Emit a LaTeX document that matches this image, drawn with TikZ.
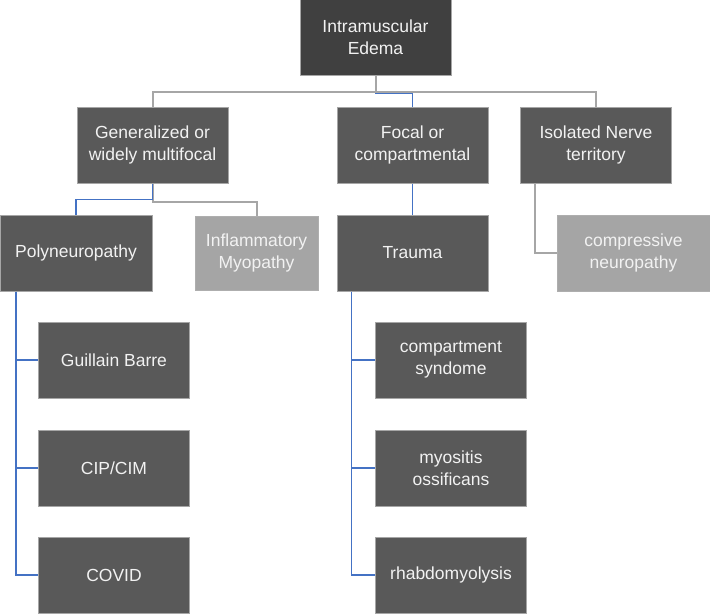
\documentclass[tikz,border=0pt]{standalone}
\usepackage{fontspec}
\setmainfont{Liberation Sans}
\definecolor{boxdark}{HTML}{595959}
\definecolor{boxtop}{HTML}{404040}
\definecolor{boxlight}{HTML}{A5A5A5}
\definecolor{boxedge}{HTML}{A6A6A6}
\definecolor{linkgray}{HTML}{A6A6A6}
\definecolor{linkblue}{HTML}{4472C4}
\definecolor{boxtext}{HTML}{F2F2F2}
\tikzstyle{darkbox}=[draw=boxedge,fill=boxdark,text=boxtext,line width=1pt,minimum width=151pt,minimum height=76pt,inner sep=0pt,align=center,font=\fontsize{17.5}{22}\selectfont]
\tikzstyle{topbox}=[darkbox,fill=boxtop]
\tikzstyle{lightbox}=[darkbox,fill=boxlight,draw=boxlight!90!white]
\tikzstyle{graylink}=[draw=linkgray,line width=2pt]
\tikzstyle{bluelink}=[draw=linkblue,line width=1.8pt]

\begin{document}
\begin{tikzpicture}[x=1pt,y=-1pt]
\useasboundingbox (0,0) rectangle (710,614);
% first two levels
\node[topbox] (edema) at (375.5,37.5) {Intramuscular\\Edema};
\node[darkbox] (general) at (152.5,145) {Generalized or\\widely multifocal};
\node[darkbox] (focal) at (412.5,145) {Focal or\\compartmental};
\node[darkbox] (isolated) at (596,145) {Isolated Nerve\\territory};
% third level
\node[darkbox,minimum width=152pt] (poly) at (76,253) {Polyneuropathy};
\node[lightbox,minimum width=123pt,minimum height=74pt] (inflam) at (256.5,253) {Inflammatory\\Myopathy};
\node[darkbox] (trauma) at (412.5,253) {Trauma};
\node[lightbox,minimum width=153pt] (compress) at (633.5,253) {compressive\\neuropathy};
% leaves
\node[darkbox] (guillain) at (114,360) {Guillain Barre};
\node[darkbox] (cipcim) at (114,468) {CIP/CIM};
\node[darkbox] (covid) at (114,575) {COVID};
\node[darkbox] (compart) at (451,360) {compartment\\syndome};
\node[darkbox] (myositis) at (451,468) {myositis\\ossificans};
\node[darkbox] (rhabdo) at (451,575) {rhabdomyolysis};

\draw[bluelink] (edema.south) -- ++(0,17) -| (focal.north);
\draw[graylink] (edema.south) -- ++(0,15.5) -| (general.north);
\draw[graylink] (edema.south) -- ++(0,15.5) -| (isolated.north);

\draw[graylink] (general.south) -- ++(0,18) -| (inflam.north);
\draw[bluelink] (general.south) -- ++(0,16) -| (poly.north);
\draw[bluelink] (focal.south) -- (trauma.north);
\draw[graylink] ([xshift=-61pt]isolated.south) |- (compress.west);

\foreach \leaf in {guillain,cipcim,covid}
  \draw[bluelink] ([xshift=-60pt]poly.south) |- (\leaf.west);
\foreach \leaf in {compart,myositis,rhabdo}
  \draw[bluelink] ([xshift=-61pt]trauma.south) |- (\leaf.west);
\end{tikzpicture}
\end{document}
